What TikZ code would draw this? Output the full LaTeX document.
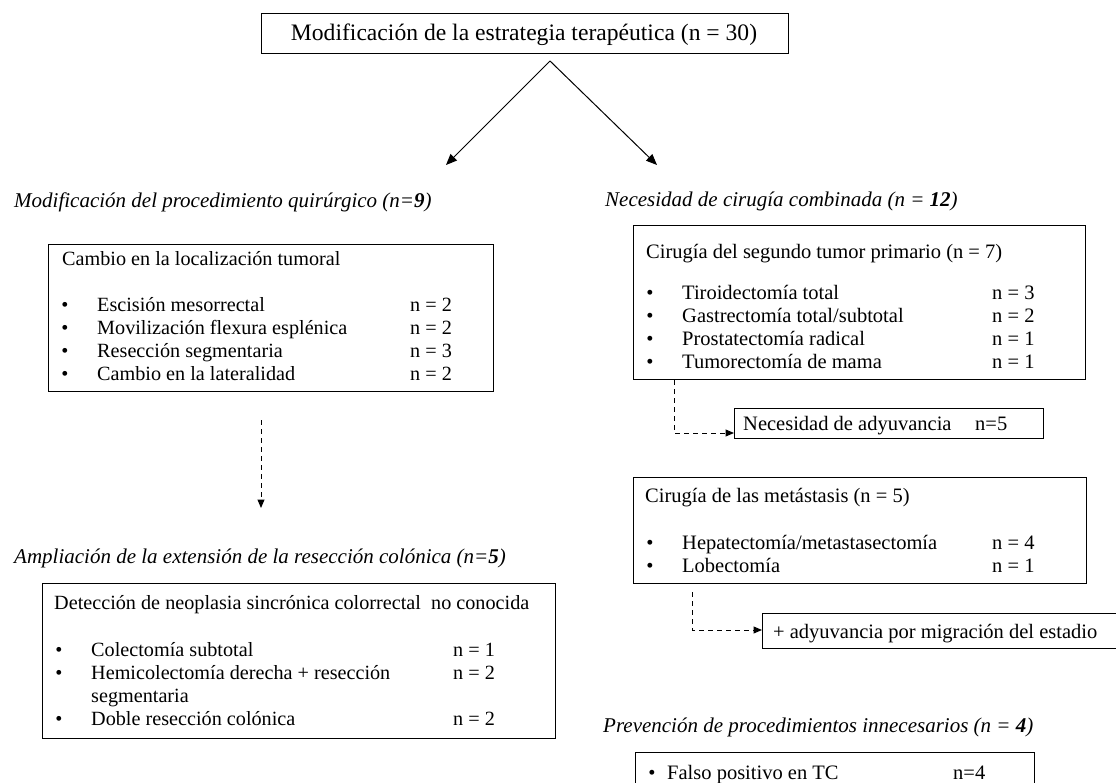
\documentclass[tikz,border=0pt]{standalone}
\usepackage{fontspec}
\setmainfont{Liberation Serif}
\usetikzlibrary{arrows.meta}
\begin{document}
\begin{tikzpicture}[x=1pt,y=-1pt,
  box/.style={draw, line width=1.1pt, inner sep=0pt, anchor=north west},
  txt/.style={inner sep=0pt, anchor=base west, font=\fontsize{20.2}{24}\selectfont},
  bul/.style={inner sep=0pt, anchor=base, font=\fontsize{20.2}{24}\selectfont},
  txtr/.style={inner sep=0pt, anchor=base west, font=\fontsize{20.5}{24}\selectfont},
  bulr/.style={inner sep=0pt, anchor=base, font=\fontsize{20.5}{24}\selectfont},
  head/.style={inner sep=0pt, anchor=base west, font=\fontsize{21}{24}\selectfont\itshape},
  arr/.style={-{Triangle[length=11pt,width=9pt]}, line width=1pt},
  darr/.style={-{Triangle[length=8.5pt,width=7pt]}, line width=1pt, dash pattern=on 5pt off 4pt}]
\useasboundingbox (0,0) rectangle (1116,783);
\clip (0,0) rectangle (1116,783);
\fill[white] (0,0) rectangle (1116,783);

% title
\node[box, minimum width=527pt, minimum height=40pt] (title) at (261,13) {};
\node[inner sep=0pt, anchor=base, font=\fontsize{23.6}{28}\selectfont] (titletxt) at (524,41) {Modificación de la estrategia terapéutica (n = 30)};
\coordinate (apex) at (550,61);
\coordinate (tipL) at (446,165);
\coordinate (tipR) at (657,165);
\draw[arr] (apex) -- (tipL);
\draw[arr] (apex) -- (tipR);

% left column
\node[head] (h1) at (14,208) {Modificación del procedimiento quirúrgico (n=\textbf{9})};
\node[box, minimum width=445pt, minimum height=147pt] (box1) at (48,244) {};
\node[txt] (b1h) at (62,266) {Cambio en la localización tumoral};
\node[bul] (b1a) at (65,312) {•};
\node[txt] (b1at) at (97,312) {Escisión mesorrectal};
\node[txt] (b1an) at (410,312) {n = 2};
\node[bul] (b1b) at (65,335) {•};
\node[txt] (b1bt) at (97,335) {Movilización flexura esplénica};
\node[txt] (b1bn) at (410,335) {n = 2};
\node[bul] (b1c) at (65,358) {•};
\node[txt] (b1ct) at (97,358) {Resección segmentaria};
\node[txt] (b1cn) at (410,358) {n = 3};
\node[bul] (b1d) at (65,381) {•};
\node[txt] (b1dt) at (97,381) {Cambio en la lateralidad};
\node[txt] (b1dn) at (410,381) {n = 2};

\coordinate (d1s) at (261,420);
\coordinate (d1e) at (261,508);
\draw[darr] (d1s) -- (d1e);

\node[head] (h3) at (14,563) {Ampliación de la extensión de la resección colónica (n=\textbf{5})};
\node[box, minimum width=513pt, minimum height=155pt] (box2) at (42,583) {};
\node[txt] (b2h) at (54,609) {Detección de neoplasia sincrónica colorrectal\ \ no conocida};
\node[bul] (b2a) at (59,656) {•};
\node[txt] (b2at) at (91,656) {Colectomía subtotal};
\node[txt] (b2an) at (453,656) {n = 1};
\node[bul] (b2b) at (59,679) {•};
\node[txt] (b2bt) at (91,679) {Hemicolectomía derecha + resección};
\node[txt] (b2bn) at (453,679) {n = 2};
\node[txt] (b2bt2) at (91,702) {segmentaria};
\node[bul] (b2c) at (59,725) {•};
\node[txt] (b2ct) at (91,725) {Doble resección colónica};
\node[txt] (b2cn) at (453,725) {n = 2};

% right column
\node[head] (h2) at (605,207) {Necesidad de cirugía combinada (n = \textbf{12})};
\node[box, minimum width=452pt, minimum height=154pt] (box3) at (633,225) {};
\node[txtr] (b3h) at (646,259) {Cirugía del segundo tumor primario (n = 7)};
\node[bulr] (b3a) at (650,300) {•};
\node[txtr] (b3at) at (682,300) {Tiroidectomía total};
\node[txtr] (b3an) at (992,300) {n = 3};
\node[bulr] (b3b) at (650,323) {•};
\node[txtr] (b3bt) at (682,323) {Gastrectomía total/subtotal};
\node[txtr] (b3bn) at (992,323) {n = 2};
\node[bulr] (b3c) at (650,346) {•};
\node[txtr] (b3ct) at (682,346) {Prostatectomía radical};
\node[txtr] (b3cn) at (992,346) {n = 1};
\node[bulr] (b3d) at (650,369) {•};
\node[txtr] (b3dt) at (682,369) {Tumorectomía de mama};
\node[txtr] (b3dn) at (992,369) {n = 1};

\node[box, minimum width=309pt, minimum height=30pt] (adj) at (734,408) {};
\node[txtr] (adjt) at (743,430) {Necesidad de adyuvancia};
\node[txtr] (adjn) at (975,430) {n=5};
\coordinate (e1a) at (674,380);
\coordinate (e1b) at (674,433);
\coordinate (e1c) at (adj.west |- e1b);
\draw[darr] (e1a) -- (e1b) -- (e1c);

\node[box, minimum width=453pt, minimum height=106pt] (box4) at (633,477) {};
\node[txtr] (b4h) at (645,502) {Cirugía de las metástasis (n = 5)};
\node[bulr] (b4a) at (650,549) {•};
\node[txtr] (b4at) at (682,549) {Hepatectomía/metastasectomía};
\node[txtr] (b4an) at (992,549) {n = 4};
\node[bulr] (b4b) at (650,572) {•};
\node[txtr] (b4bt) at (682,572) {Lobectomía};
\node[txtr] (b4bn) at (992,572) {n = 1};

\node[box, minimum width=400pt, minimum height=35pt] (mig) at (762,613) {};
\node[txtr] (migt) at (773,638) {+ adyuvancia por migración del estadio};
\coordinate (e2a) at (692,592);
\coordinate (e2b) at (692,630);
\coordinate (e2c) at (mig.west |- e2b);
\draw[darr] (e2a) -- (e2b) -- (e2c);

\node[head] (h4) at (603,732) {Prevención de procedimientos innecesarios (n = \textbf{4})};
\node[box, minimum width=399pt, minimum height=60pt] (box5) at (635,752) {};
\node[bulr] (b5a) at (652,779) {•};
\node[txtr] (b5at) at (667,779) {Falso positivo en TC};
\node[txtr] (b5an) at (953,779) {n=4};
\end{tikzpicture}
\end{document}
